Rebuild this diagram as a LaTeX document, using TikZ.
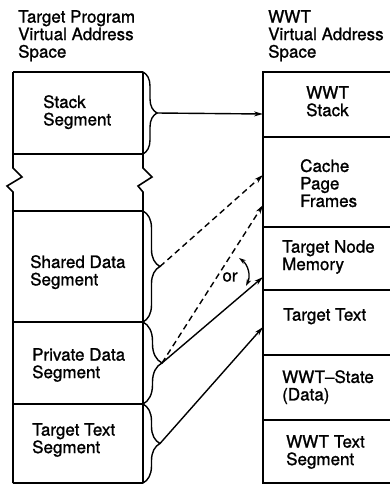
\documentclass[tikz,border=0pt]{standalone}
\usepackage{fontspec}
\setmainfont{TeX Gyre Heros}
\newfontfamily\heavyhv{TeX Gyre Heros}[FakeBold=1.2]
\usetikzlibrary{arrows.meta,decorations.pathreplacing}
\begin{document}
\begin{tikzpicture}[x=1pt,y=-1pt,
  seg/.style={line width=1.6pt},
  lbl/.style={anchor=north west,inner sep=0pt,align=left,font=\heavyhv\fontsize{17}{17.5}\selectfont},
  brc/.style={line width=1.4pt,decorate,decoration={brace,amplitude=#1}},
  arr/.style={line width=1.4pt,-{Stealth[length=9pt,width=5pt]}},
  darr/.style={arr,dash pattern=on 6pt off 4pt},
  orarr/.style={line width=1.3pt,{Stealth[length=7pt,width=4.5pt]}-{Stealth[length=7pt,width=4.5pt]}}]
\useasboundingbox (0,0) rectangle (390,485);
% titles
\node[lbl] (ttlA) at (18,10) {Target Program\\Virtual Address\\Space};
\node[lbl] (ttlB) at (268,10) {WWT\\Virtual Address\\Space};
% left column outline
\draw[seg] (13,72) -- (143,72);
\draw[seg] (13,72) -- (13,168) -- (22,177) -- (7,186) -- (13,192) -- (13,483);
\draw[seg] (143,72) -- (143,168) -- (152,177) -- (138,186) -- (143,192) -- (143,483);
\draw[seg] (13,154) -- (143,154);
\draw[seg] (13,211) -- (143,211);
\draw[seg] (13,322) -- (143,322);
\draw[seg] (13,404) -- (143,404);
\draw[seg] (13,483) -- (143,483);
% right column outline
\draw[seg] (391,72) -- (263,72) -- (263,483) -- (391,483);
\foreach \yy in {137,227,290,355,420} \draw[seg] (263,\yy) -- (391,\yy);
% left labels
\node[lbl] (stk) at (43,95) {Stack\\Segment};
\node[lbl] (shd) at (30,255) {Shared Data\\Segment};
\node[lbl] (prv) at (32,348) {Private Data\\Segment};
\node[lbl] (ttx) at (32,423) {Target Text\\Segment};
% right labels
\node[lbl] (wst) at (306,86) {WWT\\Stack};
\node[lbl] (cpf) at (300,159) {Cache\\Page\\Frames};
\node[lbl] (tnm) at (282,240) {Target Node\\Memory};
\node[lbl] (trt) at (283,308) {Target Text};
\node[lbl] (wsd) at (282,370) {WWT–State\\(Data)};
\node[lbl] (wts) at (286,435) {WWT Text\\Segment};
% braces
\draw[brc=14pt] (143,72) -- (143,154);
\draw[brc=17pt] (143,211) -- (143,322);
\draw[brc=19pt] (143,322) -- (143,404);
\draw[brc=17pt] (143,404) -- (143,483);
\coordinate (tipS) at (157,113);
\coordinate (tipD) at (160,266.5);
\coordinate (tipP) at (162,363);
\coordinate (tipT) at (160,443.5);
% targets
\coordinate (inS) at (263,114);
\coordinate (inC1) at (263,175);
\coordinate (inC2) at (263,205);
\coordinate (inN) at (263,277);
\coordinate (inT) at (263,327);
% arrows
\draw[arr] (tipS) -- (inS);
\draw[darr] (tipD) -- (inC1);
\draw[darr] (tipP) -- (inC2);
\draw[arr] (tipP) -- (inN);
\draw[arr] (tipT) -- (inT);
% or
\node[font=\heavyhv\fontsize{17}{17.5}\selectfont,inner sep=0pt] (orlbl) at (230,277) {or};
\coordinate (orA) at (239,258);
\coordinate (orB) at (246,286);
\draw[orarr] (orA) to[bend left=40] (orB);
\end{tikzpicture}
\end{document}
